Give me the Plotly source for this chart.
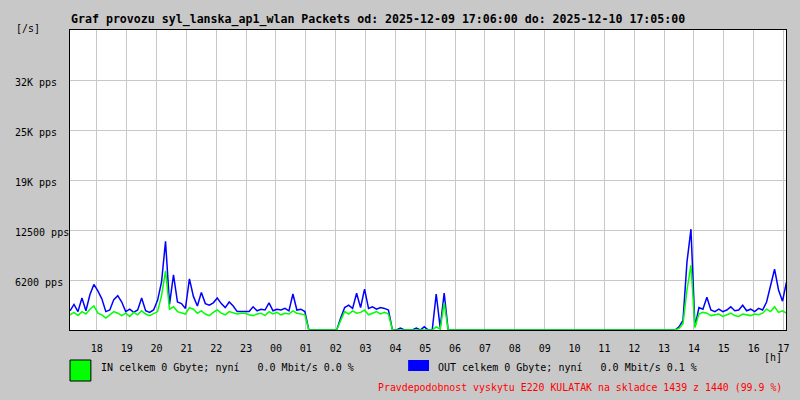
import pandas as pd
import plotly.graph_objects as go

# ---- data (8-minute samples starting 17:06) ----
start_time = "2025-12-09 17:06"
n_points = 181
times = pd.date_range(start_time, periods=n_points, freq="8min")

out_pps = (
    [2400, 3200, 2300, 4000, 2400, 4400, 5700, 4900, 3900, 2300,
     2500, 3800, 4300, 3500, 2300, 2600, 2200, 2500, 4000, 2400,
     2200, 2500, 3700, 6000, 11100, 3200, 6900, 3500, 3300, 2700,
     6400, 4200, 3000, 4700, 3300, 3100, 3400, 4000, 3300, 2800,
     3500, 3000, 2300, 2300, 2300, 2300, 2900, 2400, 2600, 2500,
     3400, 2400, 2600, 2500, 2700, 2400, 4500, 2500, 2600, 2300,
     0, 0, 0, 0, 0, 0, 0, 0, 1500, 2800,
     3100, 2700, 4600, 2800, 5100, 2700, 2900, 2600, 2800, 2700,
     2500, 0, 0, 250, 0, 0, 0, 250, 0, 400,
     0, 0, 4500, 300, 4600, 0, 0, 0, 0, 0]
    + [0] * 50
    + [0, 0, 0, 400, 1200, 8500, 12600, 400, 2800, 2600,
       4100, 2500, 2300, 2600, 2300, 2500, 2900, 2400, 2500, 3100,
       2400, 2600, 2300, 2700, 2500, 3500, 5400, 7600, 5000, 3600,
       6000]
)

in_pps = (
    [1900, 2200, 1800, 2300, 2000, 2600, 3000, 2100, 1900, 1500,
     1900, 2300, 2100, 1800, 2100, 1700, 2200, 1900, 2400, 2000,
     1800, 2100, 2300, 4300, 7400, 2600, 2900, 2300, 2100, 2000,
     2800, 2600, 2100, 2400, 2000, 1800, 2200, 2500, 2100, 1900,
     2300, 2100, 2000, 2100, 2100, 1900, 1800, 2000, 2100, 1800,
     2300, 2000, 2200, 1900, 2100, 2000, 2400, 2100, 2000, 1900,
     0, 0, 0, 0, 0, 0, 0, 0, 1200, 2300,
     2000, 2400, 2100, 2200, 2500, 1900, 2100, 2300, 2000, 2200,
     2000, 0, 0, 0, 0, 0, 0, 0, 0, 0,
     0, 0, 400, 100, 3400, 0, 0, 0, 0, 0]
    + [0] * 50
    + [0, 0, 0, 200, 800, 5000, 8100, 300, 2000, 2200,
       2100, 1800, 1900, 2000, 1700, 1900, 2100, 1800, 1700, 2000,
       1900, 1800, 2000, 1900, 2100, 2600, 2300, 2900, 2200, 2400,
       2100]
)

y_tick_values = [6250, 12500, 18750, 25000, 31250]
y_tick_labels = ["6200 pps", "12500 pps", "19K pps", "25K pps", "32K pps"]
y_max = 37500

title_text = ("Graf provozu syl_lanska_ap1_wlan Packets od: 2025-12-09 17:06:00 "
              "do: 2025-12-10 17:05:00")
in_label = "IN celkem 0 Gbyte; nyní\u00a0\u00a0\u00a00.0 Mbit/s 0.0 %"
out_label = "OUT celkem 0 Gbyte; nyní\u00a0\u00a0\u00a00.0 Mbit/s 0.1 %"
note_text = "Pravdepodobnost vyskytu E220 KULATAK na skladce 1439 z 1440 (99.9 %)"

# ---- figure ----
MONO = "DejaVu Sans Mono"
BG = "#c8c8c8"
GRID = "#c8c8c8"

# plot area: x 70..790, y 30..330
PW, PH = 720.0, 300.0


def px(x):
    return (x - 70) / PW


def py(y):
    return (330 - y) / PH


fig = go.Figure()
fig.add_trace(go.Scatter(x=times, y=out_pps, mode="lines",
                         line=dict(color="#0000ff", width=1.5), name="OUT"))
fig.add_trace(go.Scatter(x=times, y=in_pps, mode="lines",
                         line=dict(color="#00ff00", width=1.5), name="IN"))

annotations = [
    dict(text="<b>" + title_text + "</b>", xref="paper", yref="paper",
         x=px(69), y=py(19), xanchor="left", yanchor="middle",
         showarrow=False, font=dict(family=MONO, size=11.6, color="black")),
    dict(text="[/s]", xref="paper", yref="paper", x=px(14), y=py(28.5),
         xanchor="left", yanchor="middle", showarrow=False,
         font=dict(family=MONO, size=10, color="black")),
    dict(text="[h]", xref="paper", yref="paper", x=px(788), y=py(357),
         xanchor="right", yanchor="middle", showarrow=False,
         font=dict(family=MONO, size=10, color="black")),
    dict(text=in_label, xref="paper", yref="paper", x=px(99), y=py(367),
         xanchor="left", yanchor="middle", showarrow=False,
         font=dict(family=MONO, size=10, color="black")),
    dict(text=out_label, xref="paper", yref="paper", x=px(438), y=py(367),
         xanchor="left", yanchor="middle", showarrow=False,
         font=dict(family=MONO, size=10, color="black")),
    dict(text=note_text, xref="paper", yref="paper", x=px(788), y=py(387),
         xanchor="right", yanchor="middle", showarrow=False,
         font=dict(family=MONO, size=9.9, color="#ff0000")),
]
for v, lab in zip(y_tick_values, y_tick_labels):
    annotations.append(dict(text=lab, xref="paper", yref="y", x=px(13), y=v,
                            yshift=-2, xanchor="left", yanchor="middle",
                            showarrow=False,
                            font=dict(family=MONO, size=10, color="black")))

shapes = [
    dict(type="rect", xref="paper", yref="paper", x0=px(70), x1=px(91),
         y0=py(381), y1=py(360), fillcolor="#00ff00",
         line=dict(color="black", width=1)),
    dict(type="rect", xref="paper", yref="paper", x0=px(410), x1=px(431),
         y0=py(371), y1=py(360), fillcolor="#0000ff", line=dict(width=0)),
]

fig.update_layout(
    width=800, height=400,
    margin=dict(l=70, r=10, t=30, b=70, pad=0),
    paper_bgcolor=BG, plot_bgcolor="white",
    showlegend=False,
    font=dict(family=MONO, size=10, color="black"),
    annotations=annotations, shapes=shapes,
    xaxis=dict(type="date",
               range=["2025-12-09 17:06", "2025-12-10 17:05"],
               tick0="2025-12-09 18:00", dtick=3600000, tickformat="%H",
               showgrid=True, gridcolor=GRID, gridwidth=1,
               showline=True, linecolor="black", linewidth=1, mirror=True,
               ticks="outside", ticklen=9, tickcolor="rgba(0,0,0,0)",
               tickfont=dict(family=MONO, size=10, color="black"),
               zeroline=False, fixedrange=True),
    yaxis=dict(range=[0, y_max], tickvals=y_tick_values,
               showticklabels=False, showgrid=True, gridcolor=GRID,
               gridwidth=1, showline=True, linecolor="black", linewidth=1,
               mirror=True, ticks="", zeroline=False, fixedrange=True),
)

fig.write_html("out.html",
               config={"displayModeBar": False, "staticPlot": True},
               post_script="document.body.style.margin='0px';"
                           "document.body.style.overflow='hidden';")
